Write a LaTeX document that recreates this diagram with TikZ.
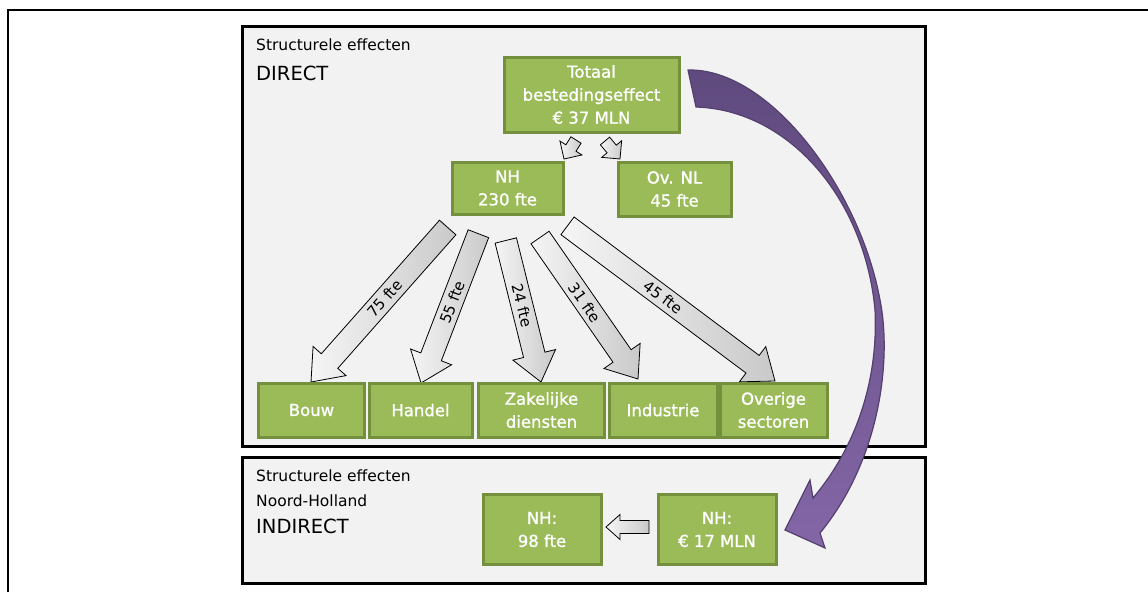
\documentclass[tikz,border=0pt]{standalone}
\usepackage{fontspec}
\setmainfont{DejaVu Sans}
\newfontfamily\heavyfont[AutoFakeBold=1.2]{DejaVu Sans}
\usetikzlibrary{calc}
\definecolor{gfill}{HTML}{9BBB59}
\definecolor{gline}{HTML}{74903D}
\definecolor{boxbg}{HTML}{F2F2F2}
\definecolor{purpA}{HTML}{5F4A7E}
\definecolor{purpB}{HTML}{8366A6}
\definecolor{purpL}{HTML}{54406E}
% point at distance #1 along, #2 across the direction stored in \n3 (cos), \n4 (sin)
\newcommand\PP[2]{({\x1+(#1)*\n3*1pt-(#2)*\n4*1pt},{\y1+(#1)*\n4*1pt+(#2)*\n3*1pt})}
\newcommand\blockarrow[5]{%
 \path[blkarrow] let \p1=(#1), \p2=(#2), \n1={atan2(\y2-\y1,\x2-\x1)}, \n2={veclen(\x2-\x1,\y2-\y1)}, \n3={cos(\n1)}, \n4={sin(\n1)} in
 \PP{0}{#3} -- \PP{\n2-#5}{#3} -- \PP{\n2-#5}{#4} -- \PP{\n2}{0} -- \PP{\n2-#5}{-#4} -- \PP{\n2-#5}{-#3} -- \PP{0}{-#3} -- cycle;}
\newcommand\arrowlabel[3]{%
 \path let \p1=(#1), \p2=(#2), \n1={atan2(\y2-\y1,\x2-\x1)}, \n2={veclen(\x2-\x1,\y2-\y1)}, \n3={cos(\n1)}, \n4={sin(\n1)}, \n5={ifthenelse(\n1<-90,\n1+180,\n1)} in
 node[arrlabel, rotate=\n5] at \PP{0.46*\n2}{0} {#3};}
\begin{document}
\begin{tikzpicture}[x=1pt,y=-1pt,
  panel/.style={draw=black, line width=3pt, fill=boxbg, inner sep=0pt},
  gbox/.style={draw=gline, fill=gfill, line width=3pt, text=white, align=center, inner sep=0pt,
    font=\heavyfont\bfseries\fontsize{16.5}{23}\selectfont},
  blkarrow/.style={draw=black, line width=0.8pt, left color=gray!8, right color=gray!42},
  arrlabel/.style={font=\fontsize{15}{18}\selectfont, inner sep=0pt, text=black},
  title/.style={anchor=base west, inner sep=0pt, font=\fontsize{15.5}{18}\selectfont},
  bigtitle/.style={anchor=base west, inner sep=0pt, font=\fontsize{19.5}{22}\selectfont},
  purparrow/.style={draw=purpL, line width=1.2pt, top color=purpA, bottom color=purpB}]
\useasboundingbox (0,0) rectangle (1148,592);
\fill[white] (0,0) rectangle (1148,592);
% outer frame
\draw[line width=2pt] (7.5,592) -- (7.5,10) -- (1148,10);
% panels
\node[panel, minimum width=683pt, minimum height=420.7pt] (direct) at (583.5,236.35) {};
\node[panel, minimum width=683pt, minimum height=125.7pt] (indirect) at (583.5,520.15) {};
\node[title] (t1) at (256,50) {Structurele effecten};
\node[bigtitle] (t2) at (256,80) {DIRECT};
\node[title] (t3) at (256,481) {Structurele effecten};
\node[title] (t4) at (256,506) {Noord-Holland};
\node[bigtitle] (t5) at (256,533) {INDIRECT};
% arrow end points
\coordinate (s1) at (447.7,227.5); \coordinate (e1) at (311,382);
\coordinate (s2) at (478.4,233.7); \coordinate (e2) at (421,383);
\coordinate (s3) at (505.8,240.5); \coordinate (e3) at (541,382);
\coordinate (s4) at (540,237.5);   \coordinate (e4) at (638,379);
\coordinate (s5) at (567.5,225.8); \coordinate (e5) at (775,381);
\coordinate (k1) at (576,140); \coordinate (l1) at (564,159);
\coordinate (k2) at (605,141); \coordinate (l2) at (620,159);
\coordinate (m1) at (649,527); \coordinate (m2) at (606,527);
% block arrows
\blockarrow{s1}{e1}{11}{22}{28}
\blockarrow{s2}{e2}{11}{22}{28}
\blockarrow{s3}{e3}{11}{22}{28}
\blockarrow{s4}{e4}{11}{22}{28}
\blockarrow{s5}{e5}{11}{22}{28}
\arrowlabel{s1}{e1}{75 fte}
\arrowlabel{s2}{e2}{55 fte}
\arrowlabel{s3}{e3}{24 fte}
\arrowlabel{s4}{e4}{31 fte}
\arrowlabel{s5}{e5}{45 fte}
\blockarrow{k1}{l1}{6}{13}{13}
\blockarrow{k2}{l2}{6}{13}{13}
\blockarrow{m1}{m2}{6.5}{12.5}{14}
% green nodes
\node[gbox, minimum width=175pt, minimum height=75pt] (tot) at (591.5,94.5) {Totaal\\bestedingseffect\\€ 37 MLN};
\node[gbox, minimum width=111pt, minimum height=52pt] (nh) at (507.5,188) {NH\\230 fte};
\node[gbox, minimum width=113pt, minimum height=54pt] (ovnl) at (674.5,189) {Ov. NL\\45 fte};
\node[gbox, minimum width=106pt, minimum height=54pt] (bouw) at (311.5,410) {Bouw};
\node[gbox, minimum width=103pt, minimum height=54pt] (handel) at (420.5,410) {Handel};
\node[gbox, minimum width=126pt, minimum height=54pt] (zak) at (541.5,410) {Zakelijke\\diensten};
\node[gbox, minimum width=108pt, minimum height=54pt] (ind) at (663,410) {Industrie};
\node[gbox, minimum width=107pt, minimum height=54pt] (ov) at (773.5,410) {Overige\\sectoren};
\node[gbox, minimum width=118pt, minimum height=70pt] (nh98) at (542,529.5) {NH:\\98 fte};
\node[gbox, minimum width=118pt, minimum height=70pt] (nh17) at (717,529.5) {NH:\\€ 17 MLN};
% purple curved arrow
\path[purparrow] (688,70) .. controls (770,68) and (860,190) .. (880,300)
  .. controls (892,360) and (880,460) .. (820,533) -- (825,548) -- (785,530) -- (810,480) -- (813,498)
  .. controls (862,440) and (878,370) .. (875,310)
  .. controls (865,200) and (790,110) .. (696,107) -- cycle;
\end{tikzpicture}
\end{document}
